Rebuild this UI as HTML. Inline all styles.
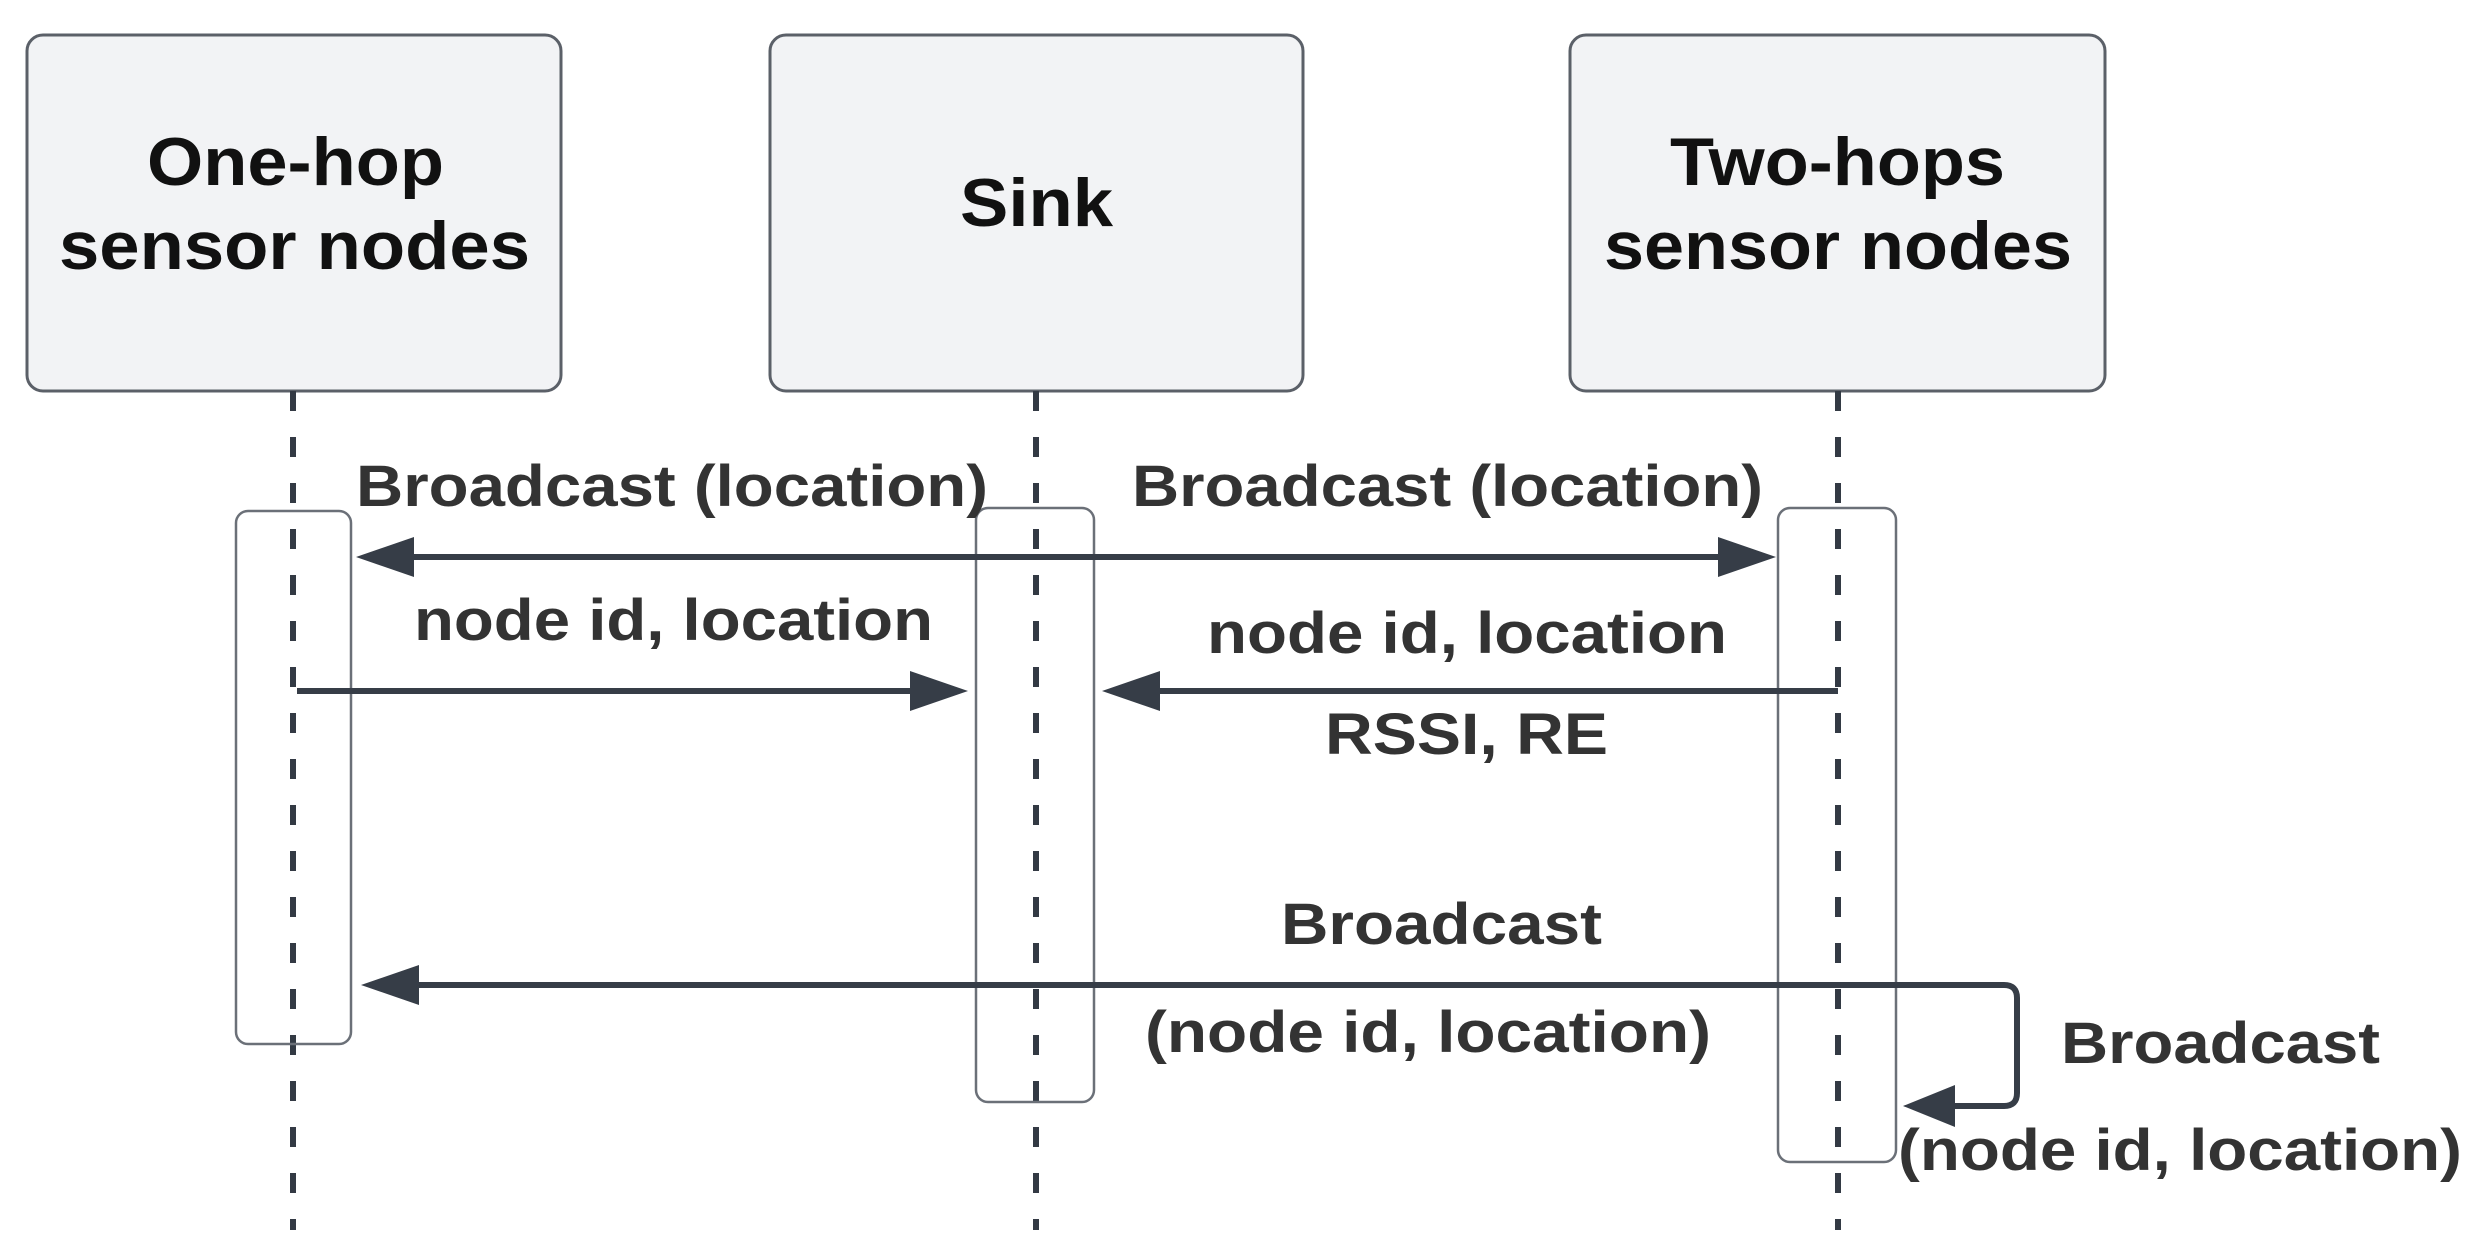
<!DOCTYPE html>
<html><head><meta charset="utf-8"><style>
html,body{margin:0;padding:0;background:#fff;}
svg{display:block;}
text{font-family:"Liberation Sans",Arial,sans-serif;font-weight:bold;}
</style></head><body>
<svg width="2480" height="1255" viewBox="0 0 2480 1255" xmlns="http://www.w3.org/2000/svg">
<defs>
<marker id="ah" markerWidth="10" markerHeight="10" refX="9" refY="5" orient="auto-start-reverse" markerUnits="userSpaceOnUse" viewBox="0 0 10 10">
</marker>
</defs>
<g fill="#f2f3f5" stroke="#5b6068" stroke-width="3">
<rect x="27" y="35" width="534" height="356" rx="16"/>
<rect x="770" y="35" width="533" height="356" rx="16"/>
<rect x="1570" y="35" width="535" height="356" rx="16"/>
</g>
<g stroke="#333a44" stroke-width="6" stroke-dasharray="20 26">
<line x1="293" y1="391" x2="293" y2="1230"/>
<line x1="1036" y1="391" x2="1036" y2="1230"/>
<line x1="1838" y1="391" x2="1838" y2="1230"/>
</g>
<g fill="none" stroke="#6b7078" stroke-width="2.5">
<rect x="236" y="511" width="115" height="533" rx="12"/>
<rect x="976" y="508" width="118" height="594" rx="12"/>
<rect x="1778" y="508" width="118" height="654" rx="12"/>
</g>
<g stroke="#363d47" stroke-width="6" fill="none">
<line x1="400" y1="557" x2="1730" y2="557"/>
<line x1="297" y1="691" x2="925" y2="691"/>
<line x1="1145" y1="691" x2="1838" y2="691"/>
<path d="M405 985 H2004 Q2017 985 2017 998 V1093 Q2017 1106 2004 1106 H1945"/>
</g>
<g fill="#363d47">
<polygon points="356,557 414,537 414,577"/>
<polygon points="1776,557 1718,537 1718,577"/>
<polygon points="968,691 910,671 910,711"/>
<polygon points="1102,691 1160,671 1160,711"/>
<polygon points="361,985 419,965 419,1005"/>
<polygon points="1903,1106 1955,1085 1955,1127"/>
</g>
<g fill="#111" font-size="68" text-anchor="start">
<text x="147" y="185" textLength="297" lengthAdjust="spacingAndGlyphs">One-hop</text>
<text x="59" y="269" textLength="471" lengthAdjust="spacingAndGlyphs">sensor nodes</text>
<text x="960" y="226" textLength="153" lengthAdjust="spacingAndGlyphs">Sink</text>
<text x="1670" y="185" textLength="335" lengthAdjust="spacingAndGlyphs">Two-hops</text>
<text x="1604" y="269" textLength="468" lengthAdjust="spacingAndGlyphs">sensor nodes</text>
</g>
<g fill="#333" font-size="58">
<text x="356" y="506" textLength="632" lengthAdjust="spacingAndGlyphs">Broadcast (location)</text>
<text x="1132" y="506" textLength="631" lengthAdjust="spacingAndGlyphs">Broadcast (location)</text>
<text x="414" y="640" textLength="519" lengthAdjust="spacingAndGlyphs">node id, location</text>
<text x="1207" y="653" textLength="520" lengthAdjust="spacingAndGlyphs">node id, location</text>
<text x="1325" y="754" textLength="283" lengthAdjust="spacingAndGlyphs">RSSI, RE</text>
<text x="1281" y="944" textLength="321" lengthAdjust="spacingAndGlyphs">Broadcast</text>
<text x="1145" y="1052" textLength="566" lengthAdjust="spacingAndGlyphs">(node id, location)</text>
<text x="2061" y="1063" textLength="319" lengthAdjust="spacingAndGlyphs">Broadcast</text>
<text x="1898" y="1170" textLength="564" lengthAdjust="spacingAndGlyphs">(node id, location)</text>
</g>
</svg>
</body></html>
